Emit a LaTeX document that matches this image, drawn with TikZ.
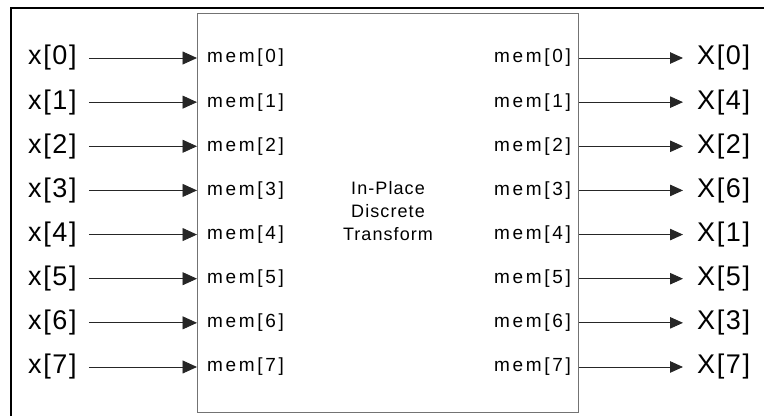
\documentclass[tikz,border=0pt]{standalone}
\usepackage{fontspec}
\setmainfont{Liberation Sans}
\newfontfamily\memfont[LetterSpace=14]{Liberation Sans}
\newfontfamily\bigfont[LetterSpace=6]{Liberation Sans}
\newfontfamily\midfont[LetterSpace=6]{Liberation Sans}
\usetikzlibrary{arrows.meta}
\begin{document}
\begin{tikzpicture}[x=1pt,y=-1pt,
  inlabel/.style={anchor=west,inner sep=0pt,font=\bigfont\fontsize{27}{32}\selectfont},
  outlabel/.style={anchor=west,inner sep=0pt,font=\bigfont\fontsize{27}{32}\selectfont},
  memlabel/.style={inner sep=0pt,font=\memfont\fontsize{19}{22}\selectfont},
  arrL/.style={draw=black!85,line width=0.9pt,-{Triangle[length=14.5pt,width=13pt]},shorten <=12pt},
  arrR/.style={draw=black!85,line width=0.9pt,-{Triangle[length=13pt,width=11.5pt]},shorten >=14pt},
  frameline/.style={line width=2pt,black},
  boxstyle/.style={draw=black!55,line width=1pt}
]
\useasboundingbox (0,0) rectangle (764,416);
\draw[frameline] (11,416) -- (11,8) -- (764,8);
\node[boxstyle,minimum width=381pt,minimum height=399pt,anchor=north west,inner sep=0pt] (box) at (197,13) {};
\node[align=center,inner sep=0pt,font=\midfont\fontsize{18}{23}\selectfont] (title) at (388,211) {In-Place\\Discrete\\Transform};
\foreach \i/\o in {0/0,1/4,2/2,3/6,4/1,5/5,6/3,7/7}{
  \pgfmathsetmacro{\yy}{58+44.14*\i}
  \node[inlabel] (x\i) at (28,\yy) {x[\i]};
  \node[memlabel,anchor=west] (ml\i) at (207,\yy) {mem[\i]};
  \node[memlabel,anchor=east] (mr\i) at (571,\yy) {mem[\i]};
  \node[outlabel] (X\i) at (697,\yy) {X[\o]};
  \draw[arrL] (x\i.east) -- (x\i.east -| box.west);
  \draw[arrR] (mr\i.east -| box.east) -- (X\i.west);
}
\end{tikzpicture}
\end{document}
